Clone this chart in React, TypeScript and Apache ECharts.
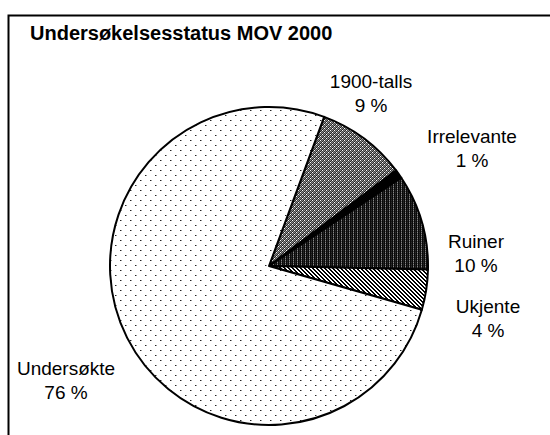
import React, { useEffect, useRef } from "react";
import * as echarts from "echarts";

const titleText = "Undersøkelsesstatus MOV 2000";
const categories = ["1900-talls", "Irrelevante", "Ruiner", "Ukjente", "Undersøkte"];
const values = [9.1, 0.9, 9.7, 4.1, 76.2];

// layout (not data)
const CENTER: [number, number] = [269, 266];
const RADIUS = 159;
const START_ANGLE = 69.7;
const labelCenters: [number, number][] = [
  [371, 93],
  [472, 148],
  [476, 253],
  [488, 318],
  [66, 380],
];

function makeTile(rows: string[][]): HTMLCanvasElement {
  const h = rows.length;
  const w = rows[0].length;
  const c = document.createElement("canvas");
  c.width = w;
  c.height = h;
  const ctx = c.getContext("2d")!;
  for (let y = 0; y < h; y++) {
    for (let x = 0; x < w; x++) {
      ctx.fillStyle = rows[y][x];
      ctx.fillRect(x, y, 1, 1);
    }
  }
  return c;
}

function pattern(rows: string[][]) {
  const c = makeTile(rows);
  return { image: c, repeat: "repeat", imageWidth: c.width, imageHeight: c.height } as any;
}

export default function App() {
  const ref = useRef<HTMLDivElement>(null);
  useEffect(() => {
    if (!ref.current) return;
    const chart = echarts.init(ref.current, undefined, { renderer: "svg" });

    const W = "#ffffff";
    const dotRows: string[][] = [];
    for (let y = 0; y < 10; y++) {
      const r: string[] = [];
      for (let x = 0; x < 10; x++) r.push(W);
      dotRows.push(r);
    }
    dotRows[0][0] = "#222222";
    dotRows[0][1] = "#999999";
    dotRows[5][5] = "#222222";
    dotRows[5][6] = "#999999";

    const grayRows = [
      ["#ffffff", "#444444", "#888888", "#222222"],
      ["#444444", "#888888", "#222222", "#999999"],
      ["#888888", "#222222", "#ffffff", "#444444"],
      ["#222222", "#999999", "#444444", "#888888"],
    ];
    const darkRows = [
      ["#0a0a0a", "#888888", "#0a0a0a", "#2a2a2a"],
      ["#0a0a0a", "#444444", "#0a0a0a", "#1a1a1a"],
    ];
    const K = "#000000";
    const hatchRows = [
      [K, K, W, W],
      [W, K, K, W],
      [W, W, K, K],
      [K, W, W, K],
    ];

    const fills = [
      pattern(grayRows),
      "#000000",
      pattern(darkRows),
      pattern(hatchRows),
      pattern(dotRows),
    ];

    const data = categories.map((name, i) => ({
      name,
      value: values[i],
      itemStyle: { color: fills[i] },
    }));

    chart.setOption({
      animation: false,
      title: {
        text: titleText,
        left: 30,
        top: 23,
        padding: 0,
        textStyle: {
          fontFamily: "Liberation Sans, Arial, sans-serif",
          fontSize: 20,
          fontWeight: "bold",
          color: "#000",
        },
      },
      graphic: [
        {
          type: "polyline",
          shape: { points: [[8.5, 440], [8.5, 15.5], [560, 15.5]] },
          style: { stroke: "#000", lineWidth: 2, fill: null },
          silent: true,
        },
      ],
      series: [
        {
          type: "pie",
          center: CENTER,
          radius: [0, RADIUS],
          startAngle: START_ANGLE,
          clockwise: true,
          percentPrecision: 0,
          avoidLabelOverlap: false,
          data,
          itemStyle: { borderColor: "#000", borderWidth: 2 },
          label: {
            show: true,
            position: "outside",
            formatter: "{b}\n{d} %",
            fontFamily: "Liberation Sans, Arial, sans-serif",
            fontSize: 19,
            lineHeight: 24,
            color: "#000",
            align: "center",
          },
          labelLine: { show: false, length: 10, length2: 0 },
          labelLayout: (params: any) => {
            const p = labelCenters[params.dataIndex];
            return { x: p[0], y: p[1], align: "center", verticalAlign: "middle" };
          },
          emphasis: { disabled: true },
        },
      ],
    });
    return () => chart.dispose();
  }, []);

  return (
    <div
      ref={ref}
      style={{ position: "fixed", left: 0, top: 0, width: 550, height: 435, background: "#fff" }}
    />
  );
}
